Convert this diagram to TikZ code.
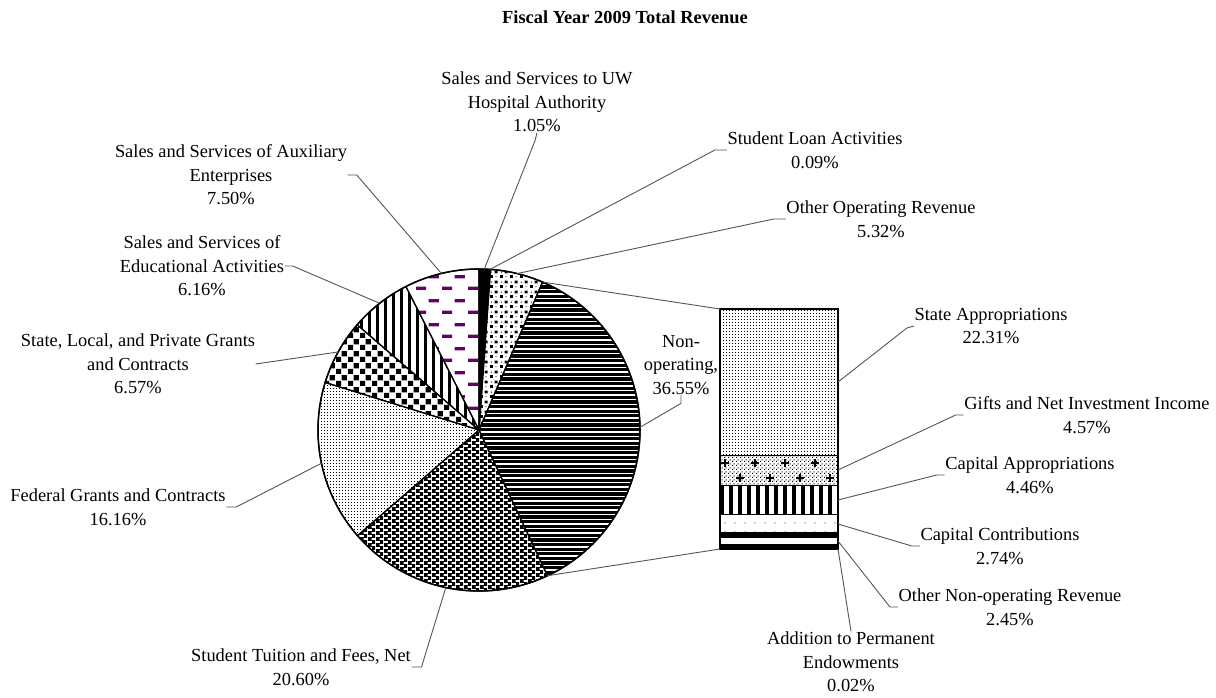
\documentclass[tikz,border=0pt]{standalone}
\usepackage{fontspec}
\setmainfont{Liberation Serif}
\usepackage{tikz}
\usetikzlibrary{patterns}
\definecolor{auxpurple}{RGB}{102,0,102}
\definecolor{leadgray}{RGB}{85,85,85}

% fill patterns (1pt = 1px)
\pgfdeclarepatternformonly{finedots}{\pgfqpoint{0pt}{0pt}}{\pgfqpoint{3pt}{3pt}}{\pgfqpoint{3pt}{3pt}}{%
  \pgfpathrectangle{\pgfqpoint{0pt}{0pt}}{\pgfqpoint{1pt}{1pt}}\pgfusepath{fill}}
\pgfdeclarepatternformonly{gdots}{\pgfqpoint{0pt}{0pt}}{\pgfqpoint{4pt}{4pt}}{\pgfqpoint{4pt}{4pt}}{%
  \pgfpathrectangle{\pgfqpoint{0pt}{0pt}}{\pgfqpoint{1.3pt}{1.3pt}}
  \pgfpathrectangle{\pgfqpoint{2pt}{2pt}}{\pgfqpoint{1.3pt}{1.3pt}}\pgfusepath{fill}}
\pgfdeclarepatternformonly{bigdots}{\pgfqpoint{0pt}{0pt}}{\pgfqpoint{10pt}{10pt}}{\pgfqpoint{10pt}{10pt}}{%
  \pgfpathrectangle{\pgfqpoint{0pt}{0pt}}{\pgfqpoint{3.2pt}{3.2pt}}
  \pgfpathrectangle{\pgfqpoint{5pt}{5pt}}{\pgfqpoint{3.2pt}{3.2pt}}
  \pgfpathrectangle{\pgfqpoint{6pt}{1pt}}{\pgfqpoint{1pt}{1pt}}
  \pgfpathrectangle{\pgfqpoint{1pt}{6pt}}{\pgfqpoint{1pt}{1pt}}\pgfusepath{fill}}
\pgfdeclarepatternformonly{hbands}{\pgfqpoint{-1pt}{0pt}}{\pgfqpoint{21pt}{4.6pt}}{\pgfqpoint{20pt}{4.6pt}}{%
  \pgfpathrectangle{\pgfqpoint{-1pt}{0pt}}{\pgfqpoint{22pt}{3.2pt}}\pgfusepath{fill}}
\pgfdeclarepatternformonly{weave}{\pgfqpoint{0pt}{0pt}}{\pgfqpoint{8pt}{6.4pt}}{\pgfqpoint{8pt}{6.4pt}}{%
  \pgfpathrectangle{\pgfqpoint{4.5pt}{0pt}}{\pgfqpoint{3.5pt}{2.4pt}}
  \pgfpathrectangle{\pgfqpoint{0pt}{2.4pt}}{\pgfqpoint{8pt}{0.8pt}}
  \pgfpathrectangle{\pgfqpoint{0pt}{3.2pt}}{\pgfqpoint{4pt}{2.4pt}}
  \pgfpathrectangle{\pgfqpoint{0pt}{5.6pt}}{\pgfqpoint{8pt}{0.8pt}}\pgfusepath{fill}}
\pgfdeclarepatternformonly{checker}{\pgfqpoint{0pt}{0pt}}{\pgfqpoint{12pt}{12pt}}{\pgfqpoint{12pt}{12pt}}{%
  \pgfpathrectangle{\pgfqpoint{0pt}{0pt}}{\pgfqpoint{5.6pt}{5.6pt}}
  \pgfpathrectangle{\pgfqpoint{6pt}{6pt}}{\pgfqpoint{5.6pt}{5.6pt}}\pgfusepath{fill}}
\pgfdeclarepatternformonly{vbars}{\pgfqpoint{0pt}{-1pt}}{\pgfqpoint{8pt}{21pt}}{\pgfqpoint{8pt}{20pt}}{%
  \pgfpathrectangle{\pgfqpoint{0pt}{-1pt}}{\pgfqpoint{2.6pt}{22pt}}\pgfusepath{fill}}
\pgfdeclarepatternformonly{thickbars}{\pgfqpoint{0pt}{-1pt}}{\pgfqpoint{9pt}{21pt}}{\pgfqpoint{9pt}{20pt}}{%
  \pgfpathrectangle{\pgfqpoint{0pt}{-1pt}}{\pgfqpoint{3.8pt}{22pt}}\pgfusepath{fill}}
\pgfdeclarepatternformonly{purpledash}{\pgfqpoint{0pt}{0pt}}{\pgfqpoint{26pt}{24pt}}{\pgfqpoint{26pt}{24pt}}{%
  \pgfpathrectangle{\pgfqpoint{0pt}{0pt}}{\pgfqpoint{10.5pt}{3.4pt}}
  \pgfpathrectangle{\pgfqpoint{13pt}{12pt}}{\pgfqpoint{10.5pt}{3.4pt}}\pgfusepath{fill}}
\pgfdeclarepatternformonly{sparsedots}{\pgfqpoint{0pt}{0pt}}{\pgfqpoint{10pt}{9pt}}{\pgfqpoint{10pt}{9pt}}{%
  \pgfpathrectangle{\pgfqpoint{5pt}{4pt}}{\pgfqpoint{1pt}{1pt}}\pgfusepath{fill}}

\begin{document}
\begin{tikzpicture}[x=1pt,y=-1pt,font=\fontsize{18.4}{23.5}\selectfont]
\fill[white] (0,0) rectangle (1216,698);
\useasboundingbox (0,0) rectangle (1216,698);
\tikzset{lbl/.style={align=center,inner sep=0.5pt}}
\tikzset{lead/.style={leadgray,line width=0.9pt}}
\tikzset{slice/.style={draw=black,line width=1.2pt,line join=round}}
\tikzset{seg/.style={draw=black,line width=1pt}}
\tikzset{uwsl/.style={fill=black}, loansl/.style={fill=white},
  othsl/.style={pattern=bigdots}, nonsl/.style={pattern=hbands},
  tuisl/.style={pattern=weave}, fedsl/.style={pattern=finedots},
  slgsl/.style={pattern=checker}, edusl/.style={pattern=vbars},
  auxsl/.style={pattern=purpledash,pattern color=auxpurple}}

\node[font=\fontsize{18.4}{23.5}\selectfont\bfseries] (title) at (625,17) {Fiscal Year 2009 Total Revenue};

% pie
\begin{scope}[shift={(479,430)},x=1pt,y=1pt]
\def\R{161}
\foreach \a/\b/\st in {90/86.22/uwsl, 86.22/85.896/loansl, 85.896/66.744/othsl,
  66.744/-64.836/nonsl, -64.836/-138.996/tuisl, -138.996/-197.172/fedsl,
  -197.172/-220.824/slgsl, -220.824/-243/edusl, -243/-270/auxsl}
  \draw[slice,\st] (0,0) -- (\a:\R) arc[start angle=\a,end angle=\b,radius=\R] -- cycle;
\draw[line width=1.5pt] (0,0) circle[radius=\R];
\coordinate (pUW) at (88.11:\R);
\coordinate (pLoan) at (86.06:\R);
\coordinate (pOth) at (76.32:\R);
\coordinate (pNon) at (0.95:\R);
\coordinate (pTui) at (-101.9:\R);
\coordinate (pFed) at (-168.08:\R);
\coordinate (pSlg) at (-209:\R);
\coordinate (pEdu) at (-231.9:\R);
\coordinate (pAux) at (-256.5:\R);
\coordinate (pTop) at (66.744:\R);
\coordinate (pBot) at (-64.836:\R);
\end{scope}

% bar of non-operating revenue
\def\bl{720} \def\br{838}
\draw[seg,pattern=finedots] (\bl,309) rectangle (\br,455.5);
\draw[seg,pattern=gdots] (\bl,455.5) rectangle (\br,485.5);
\foreach \px/\py in {725/463,755/463,785/463,815/463,740/478,770/478,800/478,830/478}
  \draw[line width=2.2pt] (\px-4,\py) -- (\px+4,\py) (\px,\py-4) -- (\px,\py+4);
\draw[seg,pattern=thickbars] (\bl,485.5) rectangle (\br,514.8);
\draw[seg,pattern=sparsedots] (\bl,514.8) rectangle (\br,532.5);
\fill (\bl,532.5) rectangle (\br,537.5);
\fill (\bl,543.5) rectangle (\br,549);
\draw[line width=1.4pt] (\bl,309) rectangle (\br,549);
\coordinate (bTL) at (\bl,309);
\coordinate (bBL) at (\bl,549);
\coordinate (bSA) at (\br,382);
\coordinate (bGI) at (\br,470);
\coordinate (bCA) at (\br,500);
\coordinate (bCC) at (\br,524);
\coordinate (bON) at (\br,541);
\coordinate (bAE) at (\br,549);
\draw[lead] (pTop) -- (bTL);
\draw[lead] (pBot) -- (bBL);

% pie labels
\node[lbl] (uwL) at (537,102) {Sales and Services to UW\\Hospital Authority\\1.05\%};
\draw[lead] (uwL.south) -- ++(-2,8) -- (pUW);
\node[lbl] (auxL) at (231,175) {Sales and Services of Auxiliary\\Enterprises\\7.50\%};
\draw[lead] (auxL.east) -- ++(9,0) -- (pAux);
\node[lbl] (eduL) at (202,266) {Sales and Services of\\Educational Activities\\6.16\%};
\draw[lead] (eduL.east) -- ++(8,0) -- (pEdu);
\node[lbl] (slgL) at (138,364) {State, Local, and Private Grants\\and Contracts\\6.57\%};
\draw[lead] (slgL.east) -- (pSlg);
\node[lbl] (fedL) at (118,507) {Federal Grants and Contracts\\16.16\%};
\draw[lead] (fedL.east) -- ++(10,0) -- (pFed);
\node[lbl] (tuiL) at (301,667) {Student Tuition and Fees, Net\\20.60\%};
\draw[lead] (tuiL.east) -- ++(10,0) -- (pTui);
\node[lbl] (loanL) at (815,150) {Student Loan Activities\\0.09\%};
\draw[lead] (loanL.west) -- ++(-12,0) -- (pLoan);
\node[lbl] (othL) at (881,219) {Other Operating Revenue\\5.32\%};
\draw[lead] (othL.west) -- ++(-12,0) -- (pOth);
\node[lbl] (nonL) at (681,365) {Non-\\operating,\\36.55\%};
\draw[lead] (nonL.south) -- ++(0,8) -- (pNon);

% bar labels
\node[lbl] (saL) at (991,326) {State Appropriations\\22.31\%};
\draw[lead] (saL.west) -- ++(-7,2) -- (bSA);
\node[lbl] (giL) at (1087,415) {Gifts and Net Investment Income\\4.57\%};
\draw[lead] (giL.west) -- ++(-8,0) -- (bGI);
\node[lbl] (caL) at (1030,475) {Capital Appropriations\\4.46\%};
\draw[lead] (caL.west) -- ++(-8,0) -- (bCA);
\node[lbl] (ccL) at (1000,546) {Capital Contributions\\2.74\%};
\draw[lead] (ccL.west) -- ++(-8,0) -- (bCC);
\node[lbl] (onL) at (1010,607) {Other Non-operating Revenue\\2.45\%};
\draw[lead] (onL.west) -- ++(-8,0) -- (bON);
\node[lbl] (aeL) at (851,662) {Addition to Permanent\\Endowments\\0.02\%};
\draw[lead] (aeL.north) -- (bAE);
\end{tikzpicture}
\end{document}
